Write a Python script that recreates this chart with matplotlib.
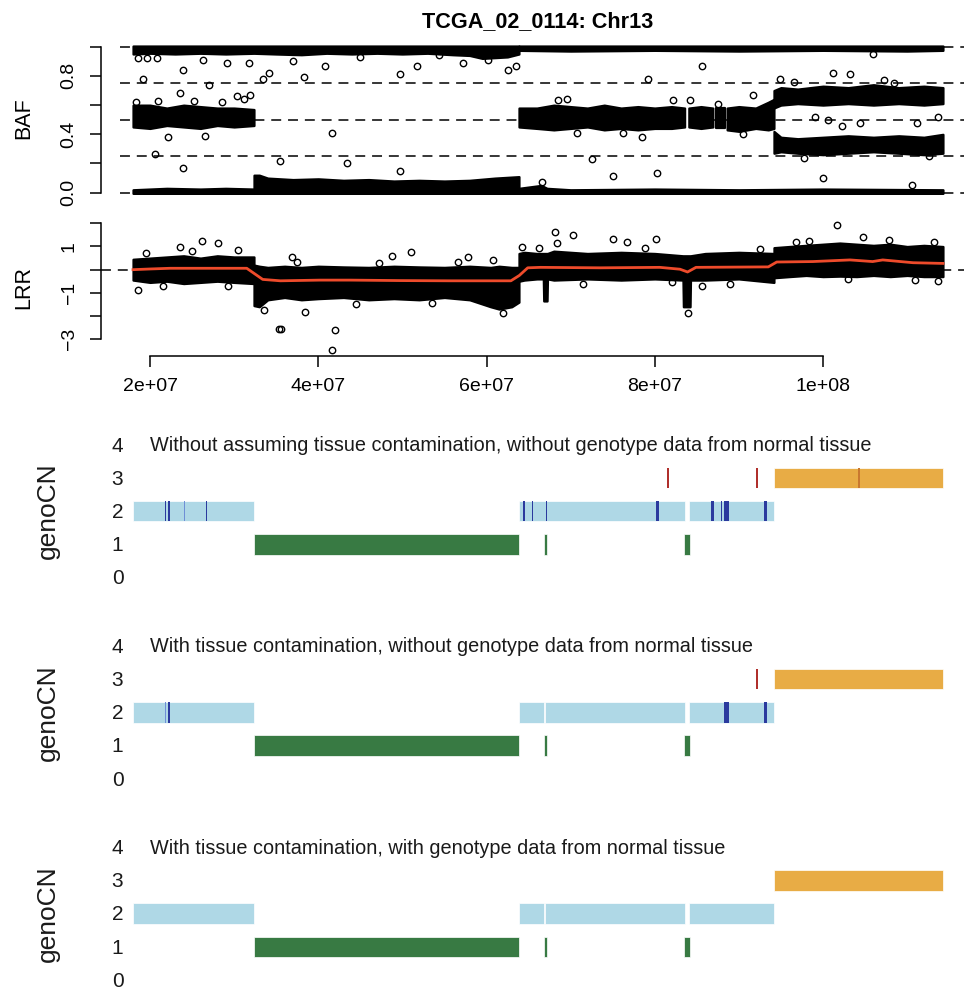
import numpy as np
import matplotlib.pyplot as plt

plt.rcParams['font.family'] = ['Liberation Sans', 'DejaVu Sans']

W, H = 964, 991

# positions are in Mb on chromosome 13
x_lim = (14.2, 118.1)
x_ticks = [20, 40, 60, 80, 100]
x_tick_labels = ['2e+07', '4e+07', '6e+07', '8e+07', '1e+08']

# BAF dense point clouds (envelopes): x, lower edge, upper edge
baf_cloud_x = [
    [17.98, 20, 23, 26, 29, 32.36, 35, 38, 41, 44, 47, 50, 53, 56, 58, 59.5, 61, 62.5, 63.86],
    [63.86, 70, 80, 90, 100, 110, 114.26],
    [17.98, 22, 26, 29, 32.36],
    [32.36, 33, 34, 37, 40, 43, 46, 49, 52, 55, 58, 61, 63.86],
    [63.86, 66.5, 67.2, 70, 80, 90, 100, 114.26],
    [17.98, 20, 22, 24, 26, 28, 30, 32.36],
    [63.86, 66, 68, 70, 72, 74, 76, 78, 80, 82, 83.55],
    [84.05, 85.5, 86.9],
    [87.3, 88.4],
    [88.6, 90, 92, 93.5, 94.17],
    [94.17, 95, 97, 100, 103, 106, 109, 112, 114.26],
    [94.17, 95, 97, 100, 103, 106, 109, 112, 114.26],
]
baf_cloud_lo = [
    [0.95, 0.955, 0.95, 0.955, 0.95, 0.955, 0.95, 0.945, 0.955, 0.95, 0.955, 0.95, 0.955, 0.945, 0.94, 0.92, 0.925, 0.93, 0.95],
    [0.975, 0.97, 0.975, 0.97, 0.975, 0.97, 0.975],
    [-0.005] * 5,
    [-0.005] * 13,
    [-0.005] * 8,
    [0.45, 0.44, 0.46, 0.45, 0.44, 0.46, 0.45, 0.46],
    [0.45, 0.44, 0.43, 0.44, 0.45, 0.43, 0.44, 0.43, 0.44, 0.44, 0.45],
    [0.45, 0.44, 0.45],
    [0.44, 0.44],
    [0.43, 0.42, 0.44, 0.43, 0.44],
    [0.58, 0.6, 0.61, 0.6, 0.61, 0.6, 0.61, 0.6, 0.61],
    [0.27, 0.28, 0.27, 0.26, 0.27, 0.28, 0.27, 0.26, 0.27],
]
baf_cloud_hi = [
    [1.005] * 19,
    [1.005] * 7,
    [0.02, 0.03, 0.025, 0.03, 0.025],
    [0.12, 0.12, 0.1, 0.09, 0.095, 0.085, 0.09, 0.08, 0.085, 0.08, 0.085, 0.1, 0.11],
    [0.03, 0.05, 0.03, 0.02, 0.025, 0.02, 0.025, 0.02],
    [0.6, 0.6, 0.58, 0.6, 0.59, 0.58, 0.58, 0.57],
    [0.58, 0.58, 0.6, 0.59, 0.58, 0.6, 0.58, 0.59, 0.58, 0.59, 0.58],
    [0.58, 0.59, 0.58],
    [0.58, 0.58],
    [0.58, 0.59, 0.58, 0.62, 0.64],
    [0.7, 0.72, 0.71, 0.73, 0.72, 0.74, 0.72, 0.73, 0.72],
    [0.42, 0.38, 0.37, 0.38, 0.39, 0.38, 0.39, 0.38, 0.4],
]

# BAF single points
baf_pts_x = [18.57, 19.61, 20.8, 19.2, 23.89, 26.26, 27.01, 29.12, 31.73, 33.47, 34.18, 38.34,
             37.03, 40.8, 49.72, 51.7, 57.24, 62.59, 63.51, 85.58, 79.23, 105.98, 20.59, 23.96,
             41.6, 22.1, 26.5, 23.57, 30.31, 31.89, 35.45, 43.38, 49.72, 72.5, 78.45, 75.07,
             80.23, 99.05, 100.63, 102.22, 104.4, 111.14, 113.7, 101.22, 103.21, 91.71, 94.89,
             100.04, 110.54, 66.56, 68.54, 69.6, 82.2, 84.19, 87.55, 18.3, 21.0, 25.2, 28.6,
             31.2, 45.0, 54.3, 60.2, 70.8, 76.2, 90.5, 96.5, 107.3, 112.6, 97.8, 108.4]
baf_pts_y = [0.92, 0.92, 0.92, 0.78, 0.84, 0.91, 0.735, 0.89, 0.89, 0.78, 0.82, 0.79,
             0.90, 0.87, 0.81, 0.87, 0.89, 0.84, 0.87, 0.87, 0.78, 0.95, 0.265, 0.167,
             0.41, 0.38, 0.39, 0.68, 0.66, 0.67, 0.22, 0.205, 0.15, 0.23, 0.38, 0.116,
             0.137, 0.52, 0.50, 0.46, 0.475, 0.48, 0.52, 0.82, 0.81, 0.67, 0.78,
             0.10, 0.05, 0.075, 0.635, 0.645, 0.635, 0.635, 0.61, 0.62, 0.63, 0.63, 0.62,
             0.64, 0.93, 0.94, 0.91, 0.41, 0.41, 0.40, 0.76, 0.77, 0.25, 0.24, 0.75]

# LRR dense point clouds: x, lower edge, upper edge
lrr_cloud_x = [
    [17.98, 20, 22, 24, 26, 28, 30, 32.36],
    [32.36, 33, 34, 36, 38, 40, 43, 46, 49, 52, 55, 58, 60.5, 61.5, 63, 63.86],
    [63.86, 64.5, 66, 66.75, 66.8, 67.2, 67.25, 68, 72, 76, 80, 83.35, 83.4, 84.2, 84.25, 86, 90, 94.17],
    [94.17, 96, 98, 100, 102, 104, 106, 108, 110, 112, 114.26],
]
lrr_cloud_lo = [
    [-0.45, -0.55, -0.5, -0.6, -0.55, -0.5, -0.55, -0.6],
    [-1.55, -1.6, -1.3, -1.2, -1.3, -1.25, -1.2, -1.3, -1.25, -1.3, -1.2, -1.3, -1.6, -1.7, -1.6, -1.4],
    [-0.5, -0.45, -0.4, -0.4, -1.35, -1.35, -0.4, -0.45, -0.4, -0.45, -0.4, -0.45, -1.6, -1.6, -0.45, -0.45, -0.4, -0.55],
    [-0.35, -0.3, -0.25, -0.3, -0.28, -0.3, -0.25, -0.3, -0.25, -0.3, -0.3],
]
lrr_cloud_hi = [
    [0.45, 0.5, 0.55, 0.6, 0.5, 0.6, 0.55, 0.55],
    [0.2, 0.15, 0.1, 0.15, 0.1, 0.15, 0.12, 0.1, 0.15, 0.12, 0.1, 0.15, 0.1, 0.15, 0.1, 0.1],
    [0.7, 0.75, 0.7, 0.7, 0.7, 0.7, 0.7, 0.8, 0.7, 0.75, 0.7, 0.6, 0.6, 0.6, 0.6, 0.7, 0.75, 0.7],
    [0.95, 1.0, 1.05, 1.1, 1.15, 1.1, 1.05, 1.1, 1.0, 1.05, 1.0],
]

# LRR single points
lrr_pts_x = [18.54, 26.22, 28.05, 23.57, 30.5, 35.37, 35.57, 41.99, 41.6, 36.84, 48.73, 51.02,
             38.42, 57.84, 68.14, 70.25, 68.34, 75.07, 76.66, 80.11, 101.7, 104.79, 83.92,
             113.7, 88.94, 85.58, 60.74, 98.33, 64.18, 19.5, 21.5, 25.0, 29.3, 33.5, 37.5,
             44.5, 47.2, 53.5, 56.6, 62.0, 66.2, 71.5, 78.9, 82.1, 92.5, 96.8, 103.0, 107.8,
             110.9, 113.2]
lrr_pts_y = [-0.87, 1.25, 1.16, 0.99, 0.85, -2.56, -2.56, -2.6, -3.46, 0.56, 0.59, 0.75,
             -1.81, 0.56, 1.64, 1.5, 1.16, 1.31, 1.18, 1.32, 1.93, 1.42, -1.88,
             -0.47, -0.62, -0.7, 0.42, 1.25, 0.99, 0.7, -0.7, 0.8, -0.7, -1.75, 0.35,
             -1.5, 0.3, -1.45, 0.35, -1.85, 0.95, -0.6, 0.95, -0.55, 0.9, 1.2, -0.4, 1.3,
             -0.45, 1.2]

# smoothed LRR (red line)
lrr_smooth_x = [17.98, 20.0, 22.4, 31.5, 33.4, 35.5, 40.2, 43.8, 49.7, 55.7, 59.2, 62.9, 63.9,
                64.9, 66.4, 73.5, 80.6, 83.0, 83.9, 84.9, 93.5, 94.5, 98.8, 103.2, 105.9,
                107.1, 110.7, 114.26]
lrr_smooth_y = [0.0, 0.03, 0.06, 0.06, -0.42, -0.48, -0.45, -0.45, -0.47, -0.48, -0.48, -0.48,
                -0.25, 0.08, 0.1, 0.08, 0.1, 0.02, -0.1, 0.1, 0.12, 0.33, 0.35, 0.42, 0.35,
                0.42, 0.3, 0.27]

# genoCN segments for the three models
cn_labels = ['0', '1', '2', '3', '4']
titles = ['Without assuming tissue contamination, without genotype data from normal tissue',
          'With tissue contamination, without genotype data from normal tissue',
          'With tissue contamination, with genotype data from normal tissue']

seg1_start = [17.98, 63.86, 84.07, 32.36, 66.84, 83.48, 94.17]
seg1_end   = [32.36, 83.6, 94.17, 63.86, 67.14, 84.19, 114.26]
seg1_cn    = [2, 2, 2, 1, 1, 1, 3]
seg23_start = [17.98, 63.86, 66.95, 84.07, 32.36, 66.84, 83.48, 94.17]
seg23_end   = [32.36, 66.84, 83.6, 94.17, 63.86, 67.14, 84.19, 114.26]
seg23_cn    = [2, 2, 2, 2, 1, 1, 1, 3]

# thin genotype marks: centre, width, cn, kind
mark1_pos = [21.87, 22.26, 24.08, 26.74, 64.49, 65.44, 67.1, 80.3, 86.84, 87.99, 88.52, 93.19,
             81.54, 92.19, 104.28]
mark1_w   = [0.18, 0.18, 0.12, 0.15, 0.24, 0.12, 0.12, 0.3, 0.3, 0.12, 0.6, 0.35, 0.2, 0.2, 0.18]
mark1_cn  = [2, 2, 2, 2, 2, 2, 2, 2, 2, 2, 2, 2, 3, 3, 3]
mark1_kind = ['db', 'db', 'fb', 'db', 'db', 'db', 'db', 'db', 'db', 'db', 'db', 'db', 'rd', 'rd', 'do']
mark2_pos = [21.9, 22.25, 88.55, 93.16, 92.19]
mark2_w   = [0.12, 0.22, 0.6, 0.35, 0.2]
mark2_cn  = [2, 2, 2, 2, 3]
mark2_kind = ['fb', 'db', 'db', 'db', 'rd']

cn_color = {1: '#387A43', 2: '#AFD8E6', 3: '#E8AC45'}
mark_color = {'db': '#2B3A9E', 'fb': '#6F8FD6', 'rd': '#B0302C', 'do': '#C9782F'}


def axes_box(top_px, bottom_px):
    left = (150 + (x_lim[0] - 20) * 8.4125) / W
    right = (150 + (x_lim[1] - 20) * 8.4125) / W
    return [left, 1 - bottom_px / H, right - left, (bottom_px - top_px) / H]


fig = plt.figure(figsize=(W / 100, H / 100), dpi=100)

dash = (0, (6.5, 4.5))
lw_axis = 1.1
pt_style = dict(ms=4.6, mfc='none', mec='black', mew=1.0, zorder=3)

# ---- BAF panel
ax1 = fig.add_axes(axes_box(40.9, 198.5))
ax1.set_xlim(x_lim)
ax1.set_ylim(-0.04, 1.04)
ax1.hlines([0, 0.25, 0.5, 0.75, 1.0], 16.43, x_lim[1], colors='black', lw=1.1,
           linestyles=[dash], zorder=1)
for xs, lo, hi in zip(baf_cloud_x, baf_cloud_lo, baf_cloud_hi):
    ax1.fill_between(xs, lo, hi, color='black', lw=1.6, zorder=2)
ax1.plot(baf_pts_x, baf_pts_y, 'o', **pt_style)
for sp in ['top', 'right', 'bottom']:
    ax1.spines[sp].set_visible(False)
ax1.spines['left'].set_bounds(0, 1)
ax1.spines['left'].set_linewidth(lw_axis)
ax1.set_xticks([])
ax1.set_yticks([0, 0.2, 0.4, 0.6, 0.8, 1.0])
ax1.set_yticklabels(['0.0', '', '0.4', '', '0.8', ''])
ax1.tick_params(axis='y', length=8, width=lw_axis, labelsize=14, pad=9, labelrotation=90)
for t in ax1.get_yticklabels():
    t.set_va('center')
fig.text(24 / W, 1 - 118.5 / H, 'BAF', rotation=90, ha='center', va='center', fontsize=15.5)
fig.text(538 / W, 1 - 27 / H, 'TCGA_02_0114: Chr13', ha='center', va='baseline',
         fontsize=15.6, fontweight='bold')

# ---- LRR panel
ax2 = fig.add_axes(axes_box(219.8, 355.5))
ax2.set_xlim(x_lim)
ax2.set_ylim(-3.70, 2.15)
ax2.axhline(0, color='black', lw=1.1, linestyle=dash, zorder=1)
for xs, lo, hi in zip(lrr_cloud_x, lrr_cloud_lo, lrr_cloud_hi):
    ax2.fill_between(xs, lo, hi, color='black', lw=1.6, zorder=2)
ax2.plot(lrr_pts_x, lrr_pts_y, 'o', **pt_style)
ax2.plot(lrr_smooth_x, lrr_smooth_y, color='#EE4B2B', lw=2.0, zorder=4)
for sp in ['top', 'right']:
    ax2.spines[sp].set_visible(False)
ax2.spines['left'].set_bounds(-3, 2)
ax2.spines['bottom'].set_bounds(20, 100)
ax2.spines['left'].set_linewidth(lw_axis)
ax2.spines['bottom'].set_linewidth(lw_axis)
ax2.set_yticks([-3, -2, -1, 0, 1, 2])
ax2.set_yticklabels(['\u22123', '', '\u22121', '', '1', ''])
ax2.set_xticks(x_ticks)
ax2.set_xticklabels(x_tick_labels)
ax2.tick_params(axis='y', length=8, width=lw_axis, labelsize=14, pad=9, labelrotation=90)
ax2.tick_params(axis='x', length=8, width=lw_axis, labelsize=14, pad=8)
for t in ax2.get_yticklabels():
    t.set_va('center')
fig.text(24 / W, 1 - 287.5 / H, 'LRR', rotation=90, ha='center', va='center', fontsize=15.5)

# ---- genoCN panels
panels = [(434.8, 587.5, seg1_start, seg1_end, seg1_cn, mark1_pos, mark1_w, mark1_cn, mark1_kind),
          (636.0, 788.7, seg23_start, seg23_end, seg23_cn, mark2_pos, mark2_w, mark2_cn, mark2_kind),
          (837.3, 990.0, seg23_start, seg23_end, seg23_cn, [], [], [], [])]
for i, (top, bot, ss, ee, cc, mp, mw, mc, mk) in enumerate(panels):
    ax = fig.add_axes(axes_box(top, bot))
    ax.set_xlim(x_lim)
    ax.set_ylim(-0.3, 4.3)
    ax.axis('off')
    widths = [e - s for s, e in zip(ss, ee)]
    ax.bar(ss, [0.62] * len(ss), width=widths, bottom=[c - 0.31 for c in cc], align='edge',
           color=[cn_color[c] for c in cc], edgecolor='white', linewidth=0.5)
    if mp:
        ax.bar(mp, [0.62] * len(mp), width=mw, bottom=[c - 0.31 for c in mc], align='center',
               color=[mark_color[k] for k in mk], linewidth=0)
    for k, lab in enumerate(cn_labels):
        ax.text(16.14, k - 0.04, lab, ha='center', va='center', fontsize=15, color='#1a1a1a')
    ax.text(20.0, 3.97, titles[i], ha='left', va='center', fontsize=14.3, color='#1a1a1a')
    ax.text(7.88, 2, 'genoCN', rotation=90, ha='center', va='center', fontsize=19,
            color='#1a1a1a')

fig.savefig('out.png', dpi=100)
